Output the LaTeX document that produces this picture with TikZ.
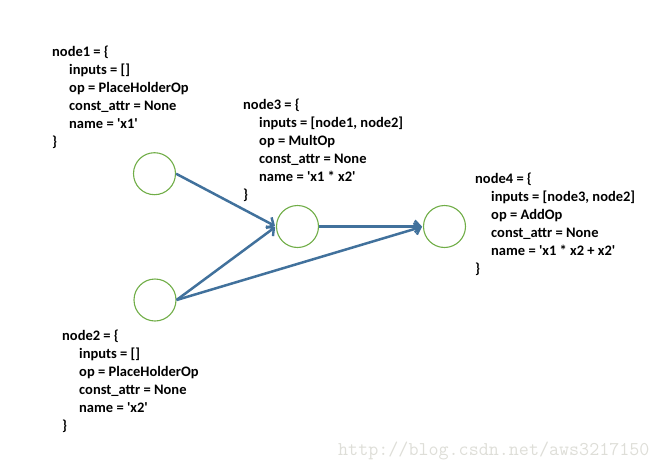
\documentclass[tikz,border=0pt]{standalone}
\usepackage{fontspec}
\setmainfont{Carlito}[Ligatures=TeXOff]
\usetikzlibrary{arrows.meta}
\definecolor{arrowblue}{RGB}{65,113,156}
\definecolor{circgreen}{RGB}{112,173,71}
\definecolor{wmgray}{RGB}{222,222,216}
\tikzset{
  opnode/.style={circle,draw=circgreen,line width=1.1pt,minimum size=42pt,inner sep=0pt},
  edge/.style={draw=arrowblue,line width=2.5pt,-{Straight Barb[length=5.5pt,width=12pt,line width=2.4pt]},shorten >=1pt},
  codeline/.style={anchor=base west,inner sep=0pt,font=\fontsize{14.5}{18}\selectfont\bfseries}
}
\begin{document}
\begin{tikzpicture}[x=1pt,y=-1pt]
\useasboundingbox (0,0) rectangle (659,469);
% circles
\node[opnode] (n1) at (154.5,173.7) {};
\node[opnode] (n2) at (155,300) {};
\node[opnode] (n3) at (297.5,226.5) {};
\node[opnode] (n4) at (444.5,226.5) {};
% edges
\draw[edge] (n1.east) -- (n3.west);
\draw[edge] (n2.east) -- (n3.west);
\draw[edge] (n3.east) -- (n4.west);
\draw[edge] (n2.east) -- (n4.west);
% code blocks
\foreach \t [count=\i] in {{inputs = []},{op = PlaceHolderOp},{const\_attr = None},{name = 'x1'}}
  \node[codeline] (a\i) at (69,{56+18*\i}) {\t};
\node[codeline] (a0) at (52,56) {node1 = \{};
\node[codeline] (a5) at (52,146) {\}};
\foreach \t [count=\i] in {{inputs = []},{op = PlaceHolderOp},{const\_attr = None},{name = 'x2'}}
  \node[codeline] (b\i) at (79,{340+18*\i}) {\t};
\node[codeline] (b0) at (62,340) {node2 = \{};
\node[codeline] (b5) at (62,430) {\}};
\foreach \t [count=\i] in {{inputs = [node1, node2]},{op = MultOp},{const\_attr = None},{name = 'x1 * x2'}}
  \node[codeline] (c\i) at (259,{109+18*\i}) {\t};
\node[codeline] (c0) at (243,109) {node3 = \{};
\node[codeline] (c5) at (243,199) {\}};
\foreach \t [count=\i] in {{inputs = [node3, node2]},{op = AddOp},{const\_attr = None},{name = 'x1 * x2 + x2'}}
  \node[codeline] (d\i) at (491,{183+18*\i}) {\t};
\node[codeline] (d0) at (475,183) {node4 = \{};
\node[codeline] (d5) at (475,273) {\}};
% watermark
\node[anchor=base west,inner sep=0pt,text=wmgray,font=\fontsize{19.5}{19.5}\ttfamily] (wm) at (338,455) {http://blog.csdn.net/aws3217150};
\end{tikzpicture}
\end{document}
